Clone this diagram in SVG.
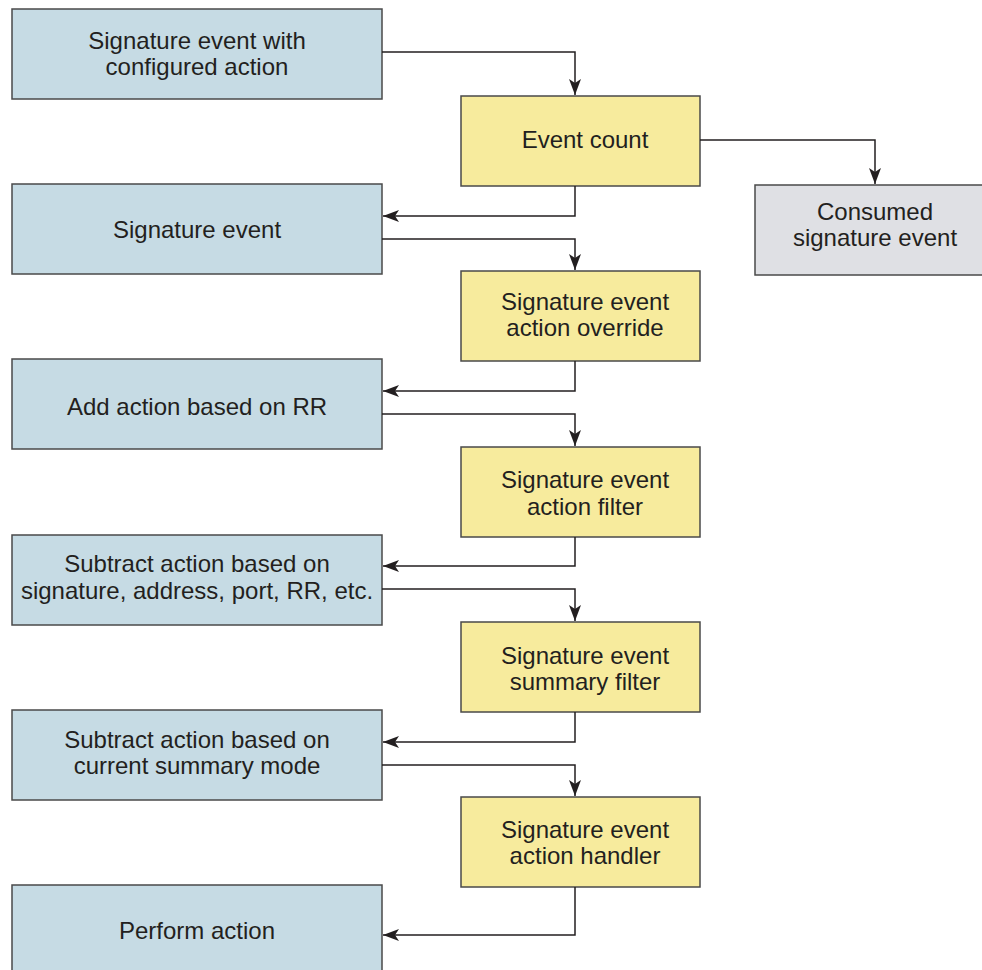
<svg xmlns="http://www.w3.org/2000/svg" width="982" height="970" viewBox="0 0 982 970">
<defs>
<style>
.b{fill:#c6dbe4;stroke:#4a4a4a;stroke-width:1.5}
.y{fill:#f7eb9d;stroke:#4a4a4a;stroke-width:1.5}
.g{fill:#dfe0e4;stroke:#4a4a4a;stroke-width:1.5}
text{font-family:"Liberation Sans",Arial,sans-serif;font-size:24px;fill:#231f20;text-anchor:middle}
.c path{fill:none;stroke:#231f20;stroke-width:1.5}
</style>
<marker id="ah" viewBox="0 0 16 12" refX="16" refY="6" markerWidth="16" markerHeight="12" markerUnits="userSpaceOnUse" orient="auto">
<path d="M0,0 L16,6 L0,12 L4,6 Z" fill="#231f20"/>
</marker>
</defs>
<rect width="982" height="970" fill="#fff"/>
<g id="n1"><rect class="b" x="12" y="9" width="370" height="90"/><text x="197" y="49">Signature event with</text><text x="197" y="75">configured action</text></g>
<g id="n2"><rect class="y" x="461" y="96" width="239" height="90"/><text x="585" y="148">Event count</text></g>
<g id="n3"><rect class="g" x="755" y="185" width="230" height="90"/><text x="875" y="220">Consumed</text><text x="875" y="246">signature event</text></g>
<g id="n4"><rect class="b" x="12" y="184" width="370" height="90"/><text x="197" y="238">Signature event</text></g>
<g id="n5"><rect class="y" x="461" y="271" width="239" height="90"/><text x="585" y="310">Signature event</text><text x="585" y="336">action override</text></g>
<g id="n6"><rect class="b" x="12" y="359" width="370" height="90"/><text x="197" y="415">Add action based on RR</text></g>
<g id="n7"><rect class="y" x="461" y="447" width="239" height="90"/><text x="585" y="488">Signature event</text><text x="585" y="515">action filter</text></g>
<g id="n8"><rect class="b" x="12" y="535" width="370" height="90"/><text x="197" y="572">Subtract action based on</text><text x="197" y="599">signature, address, port, RR, etc.</text></g>
<g id="n9"><rect class="y" x="461" y="622" width="239" height="90"/><text x="585" y="664">Signature event</text><text x="585" y="690">summary filter</text></g>
<g id="n10"><rect class="b" x="12" y="710" width="370" height="90"/><text x="197" y="748">Subtract action based on</text><text x="197" y="774">current summary mode</text></g>
<g id="n11"><rect class="y" x="461" y="797" width="239" height="90"/><text x="585" y="838">Signature event</text><text x="585" y="864">action handler</text></g>
<g id="n12"><rect class="b" x="12" y="885" width="370" height="95"/><text x="197" y="939">Perform action</text></g>
<g class="c" id="connectors">
<path d="M382,52 H575 V95" marker-end="url(#ah)"/>
<path d="M700,140 H875 V184" marker-end="url(#ah)"/>
<path d="M575,186 V216 H383" marker-end="url(#ah)"/>
<path d="M382,239 H575 V270" marker-end="url(#ah)"/>
<path d="M575,361 V391 H383" marker-end="url(#ah)"/>
<path d="M382,414 H575 V446" marker-end="url(#ah)"/>
<path d="M575,537 V566 H383" marker-end="url(#ah)"/>
<path d="M382,589 H575 V621" marker-end="url(#ah)"/>
<path d="M575,712 V742 H383" marker-end="url(#ah)"/>
<path d="M382,765 H575 V796" marker-end="url(#ah)"/>
<path d="M575,887 V935 H383" marker-end="url(#ah)"/>
</g>
</svg>
